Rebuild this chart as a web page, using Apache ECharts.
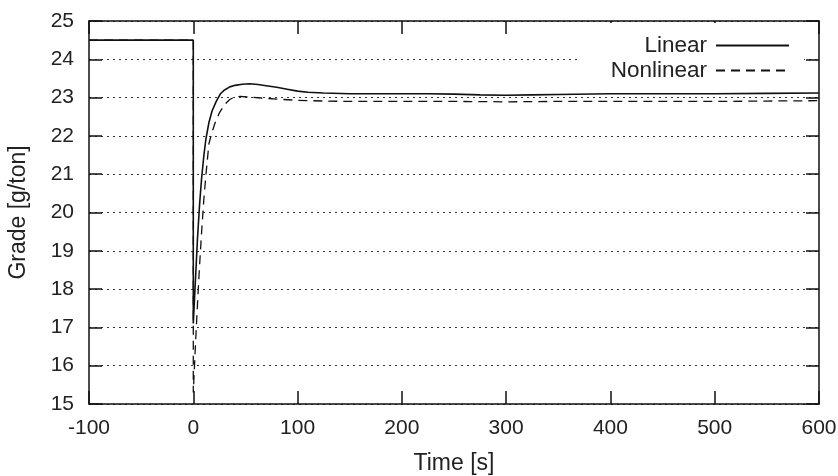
<!DOCTYPE html>
<html>
<head>
<meta charset="utf-8">
<script src="https://cdn.jsdelivr.net/npm/echarts@6/dist/echarts.min.js"></script>
<style>
  html, body { margin: 0; padding: 0; background: #fff; }
  #chart { width: 838px; height: 476px; }
</style>
</head>
<body>
<div id="chart"></div>
<script>
    // step response of the grade
    var timeLinear = [-100, 0, 0, 2, 4, 6, 8, 10, 12, 15, 18, 22, 26, 30, 35, 40, 47, 54, 62, 70, 80, 90, 100, 110, 125, 150, 175, 200, 225, 250, 275, 300, 325, 350, 400, 450, 500, 550, 600];
    var gradeLinear = [24.5, 24.5, 17.1, 18.2, 19.3, 20.2, 20.9, 21.45, 21.9, 22.35, 22.65, 22.9, 23.1, 23.2, 23.28, 23.32, 23.35, 23.36, 23.34, 23.31, 23.27, 23.22, 23.17, 23.14, 23.12, 23.1, 23.1, 23.1, 23.1, 23.09, 23.07, 23.06, 23.07, 23.08, 23.1, 23.1, 23.1, 23.11, 23.12];

    var timeNonlinear = [-100, 0, 0, 2, 4, 6, 8, 10, 12, 15, 18, 21, 25, 30, 35, 40, 45, 55, 65, 80, 100, 125, 150, 200, 250, 300, 350, 400, 450, 500, 550, 600];
    var gradeNonlinear = [24.5, 24.5, 15.3, 16.5, 17.6, 18.6, 19.5, 20.3, 20.95, 21.8, 22.1, 22.35, 22.6, 22.82, 22.95, 23.02, 23.03, 23.01, 22.99, 22.96, 22.93, 22.91, 22.9, 22.9, 22.9, 22.89, 22.9, 22.9, 22.9, 22.9, 22.91, 22.92];

    var textColor = '#222';
    var font = 'Liberation Sans';

    function pairs (xs, ys) {
        return xs.map(function (x, i) { return [x, ys[i]] })
    }

    var dom = echarts.init(document.getElementById('chart'));

    var axisLine = { show: true, onZero: false, lineStyle: { color: '#111', width: 1.5 } };
    var tick = { show: true, inside: true, length: 13, lineStyle: { color: '#111', width: 1.5 } };
    var legendText = { color: textColor, fontSize: 22.5, fontFamily: font, padding: [0, 4, 0, 0] };

    var option = {
        backgroundColor: '#fff',
        animation: false,
        textStyle: { fontFamily: font },
        grid: { left: 89, right: 19, top: 21, bottom: 72, outerBoundsMode: 'none', containLabel: false },
        legend: [
            {
                data: ['Linear'],
                right: 34,
                top: 23,
                align: 'right',
                itemWidth: 73,
                itemHeight: 14,
                padding: [11, 14, 2, 74],
                backgroundColor: '#fff',
                itemStyle: { opacity: 0 },
                textStyle: legendText
            },
            {
                data: ['Nonlinear'],
                right: 34,
                top: 58,
                align: 'right',
                itemWidth: 73,
                itemHeight: 14,
                padding: [1, 14, 8, 30],
                backgroundColor: '#fff',
                itemStyle: { opacity: 0 },
                textStyle: legendText
            }
        ],
        xAxis: [
            {
                type: 'value',
                min: -100,
                max: 600,
                interval: 100,
                name: 'Time [s]',
                nameLocation: 'middle',
                nameGap: 48,
                nameTextStyle: { color: textColor, fontSize: 23, fontFamily: font },
                axisLine: axisLine,
                axisTick: tick,
                axisLabel: { color: textColor, fontSize: 21, fontFamily: font, margin: 14 },
                splitLine: { show: false }
            },
            {
                type: 'value',
                position: 'top',
                min: -100,
                max: 600,
                interval: 100,
                axisLine: axisLine,
                axisTick: tick,
                axisLabel: { show: false },
                splitLine: { show: false }
            }
        ],
        yAxis: [
            {
                type: 'value',
                min: 15,
                max: 25,
                interval: 1,
                name: 'Grade [g/ton]',
                nameLocation: 'middle',
                nameGap: 59,
                nameTextStyle: { color: textColor, fontSize: 23, fontFamily: font },
                axisLine: axisLine,
                axisTick: tick,
                axisLabel: { color: textColor, fontSize: 21, fontFamily: font, margin: 15 },
                splitLine: { show: true, lineStyle: { color: '#333', width: 1, type: [2, 4] } }
            },
            {
                type: 'value',
                position: 'right',
                min: 15,
                max: 25,
                interval: 1,
                axisLine: axisLine,
                axisTick: tick,
                axisLabel: { show: false },
                splitLine: { show: false }
            }
        ],
        series: [
            {
                name: 'Linear',
                type: 'line',
                data: pairs(timeLinear, gradeLinear),
                showSymbol: false,
                symbol: 'none',
                color: '#111',
                lineStyle: { color: '#111', width: 1.6 }
            },
            {
                name: 'Nonlinear',
                type: 'line',
                data: pairs(timeNonlinear, gradeNonlinear),
                showSymbol: false,
                symbol: 'none',
                color: '#111',
                lineStyle: { color: '#111', width: 1.3, type: [9, 6] }
            }
        ]
    };

    dom.setOption(option);
</script>
</body>
</html>
